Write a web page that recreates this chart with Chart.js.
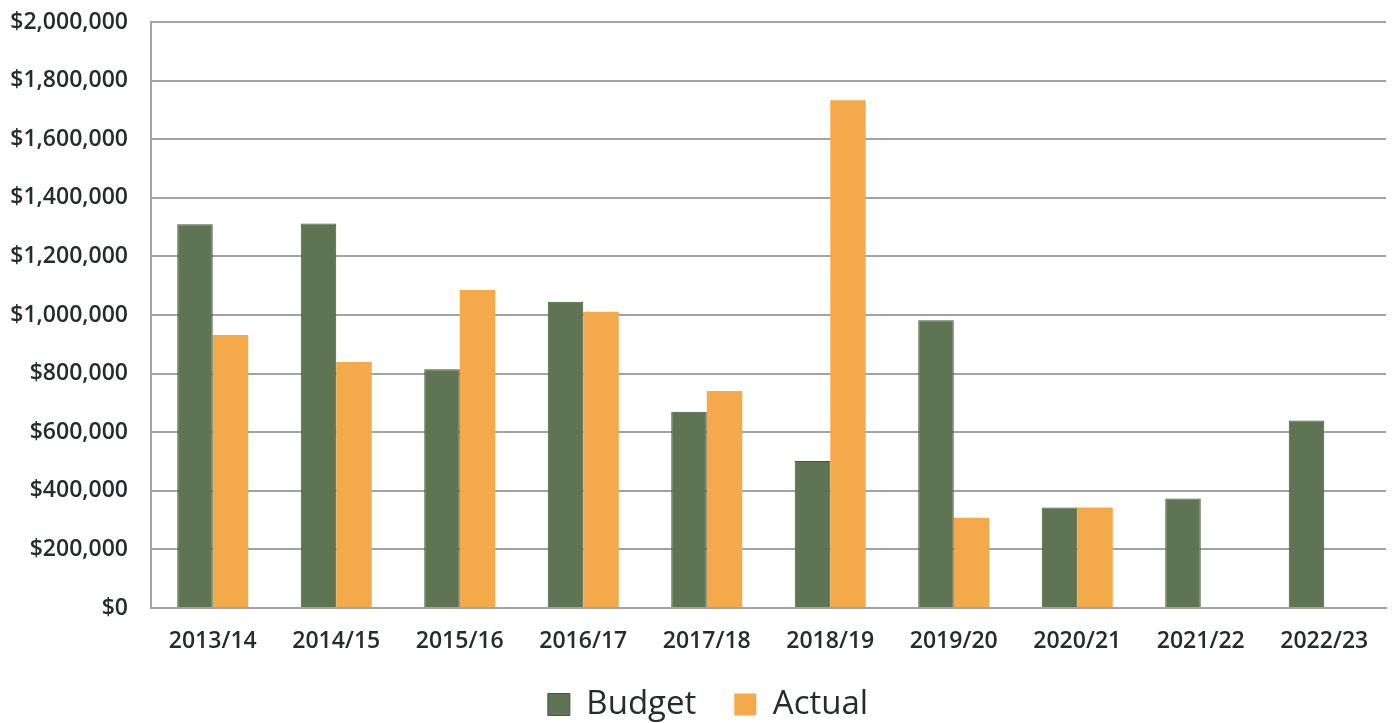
<!DOCTYPE html>
<html>
<head>
<meta charset="utf-8">
<script src="https://cdn.jsdelivr.net/npm/chart.js@4/dist/chart.umd.min.js"></script>
<style>
  html, body { margin: 0; padding: 0; background: #ffffff; }
  #wrap { width: 1393px; height: 723px; }
</style>
</head>
<body>
<div id="wrap"><canvas id="c" width="1393" height="723"></canvas></div>
<script>
const categories = ['2013/14', '2014/15', '2015/16', '2016/17', '2017/18', '2018/19', '2019/20', '2020/21', '2021/22', '2022/23'];
const budgetValues = [1310000, 1312000, 815000, 1045000, 670000, 502000, 982000, 343000, 374000, 640000];
const actualValues = [932000, 840000, 1085000, 1011000, 741000, 1733000, 308000, 343000, null, null];
const seriesNames = ['Budget', 'Actual'];
const yTickValues = [0, 200000, 400000, 600000, 800000, 1000000, 1200000, 1400000, 1600000, 1800000, 2000000];

const FONT = "'Open Sans', 'DejaVu Sans', sans-serif";
const TEXT = '#262b2b';
const GRID = '#a3a3a3';

// Nudges the legend to where the reference places it.
const legendShift = {
  id: 'legendShift',
  afterLayout(chart) {
    const lg = chart.legend;
    if (!lg) return;
    lg.left += 15; lg.right += 15;
    lg.top = 650; lg.bottom = chart.height;
    lg.height = lg.bottom - lg.top;
  }
};

new Chart(document.getElementById('c'), {
  type: 'bar',
  data: {
    labels: categories,
    datasets: [
      { label: seriesNames[0], data: budgetValues, backgroundColor: '#5e7453', borderColor: '#44583a', borderWidth: 1 },
      { label: seriesNames[1], data: actualValues, backgroundColor: '#f4aa4a', borderColor: '#f4aa4a', borderWidth: 0 }
    ]
  },
  plugins: [legendShift],
  options: {
    responsive: false,
    animation: false,
    layout: { padding: { top: 22, left: 0, right: 7, bottom: 0 } },
    datasets: { bar: { categoryPercentage: 0.575, barPercentage: 1.0 } },
    plugins: {
      legend: {
        position: 'bottom',
        maxHeight: 67,
        labels: {
          boxWidth: 22, boxHeight: 22, padding: 38,
          color: TEXT,
          font: { family: FONT, size: 33, weight: '400' }
        }
      },
      tooltip: { enabled: false }
    },
    scales: {
      x: {
        grid: { display: false, drawTicks: false },
        border: { display: true, color: GRID, width: 2 },
        ticks: { color: TEXT, padding: 22, font: { family: FONT, size: 23, weight: '600', lineHeight: 1.0 }, maxRotation: 0 },
        afterFit: (s) => { s.height = 48; }
      },
      y: {
        min: 0, max: 2000000,
        afterBuildTicks: (s) => { s.ticks = yTickValues.map(v => ({ value: v })); },
        grid: { color: GRID, lineWidth: 2, drawTicks: true, tickLength: 23, tickColor: 'rgba(0,0,0,0)' },
        border: { display: true, color: GRID, width: 2 },
        ticks: {
          color: TEXT, padding: 0,
          font: { family: FONT, size: 23, weight: '600' },
          callback: (v) => '$' + Number(v).toLocaleString('en-US')
        },
        afterFit: (s) => { s.width = 151; }
      }
    }
  }
});
</script>
</body>
</html>
